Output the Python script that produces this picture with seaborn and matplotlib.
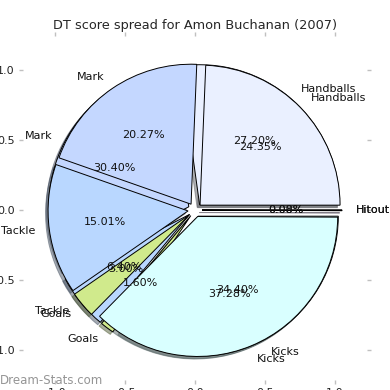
import matplotlib
matplotlib.use("Agg")
import matplotlib.pyplot as plt
import seaborn as sns

# DT score spread, two seasons overlaid (same label order for both pies)
categories = ["Handballs", "Mark", "Tackle", "Goals", "Kicks", "Hitout"]
spread_back = [27.20, 30.40, 6.40, 1.60, 34.40, 0.00]
spread_front = [24.35, 20.27, 15.01, 3.00, 37.28, 0.08]
wedge_colors = ["#eaf0ff", "#c4d7ff", "#b9d7ff", "#d0ea8c", "#d9ffff", "#f0e0ff"]
title = "DT score spread for Amon Buchanan (2007)"
ticks = [-1.0, -0.5, 0.0, 0.5, 1.0]

sns.set_style("white")
plt.rcParams["font.family"] = ["DejaVu Sans"]

fig = plt.figure(figsize=(3.9, 3.9), dpi=100)
# axes box in pixels: left 23, top 36, 344 x 344
ax = fig.add_axes([23 / 390, 10 / 390, 344 / 390, 344 / 390])

explode = [0.05] * len(categories)
for values in (spread_back, spread_front):
    ax.pie(
        values,
        labels=categories,
        colors=wedge_colors,
        explode=explode,
        autopct="%1.2f%%",
        shadow={"ox": -0.013, "oy": -0.013, "shade": 0.6},
        startangle=0,
        frame=True,
        wedgeprops={"edgecolor": "black", "linewidth": 0.7},
        textprops={"fontsize": 8, "color": "#111111"},
    )

ax.set_xlim(-172 / 140, 172 / 140)
ax.set_ylim(-170 / 140, 174 / 140)
ax.set_xticks(ticks)
ax.set_yticks(ticks)
ax.set_xticklabels([f"{t:.1f}" for t in ticks])
ax.set_yticklabels([f"{t:.1f}" for t in ticks])
for spine in ax.spines.values():
    spine.set_visible(False)
ax.tick_params(
    axis="both", which="both", direction="out", length=3, width=1,
    color="#c0c0c0", labelsize=8, labelcolor="#222222",
    top=True, right=True, bottom=True, left=True,
    labeltop=False, labelright=False, pad=3,
)
ax.set_title(title, fontsize=9.3, pad=5)

fig.text(0.0, 10 / 390, "Dream-Stats.com", fontsize=8.5, color="#959595",
         ha="left", va="center")

fig.savefig("out.png", dpi=100)
